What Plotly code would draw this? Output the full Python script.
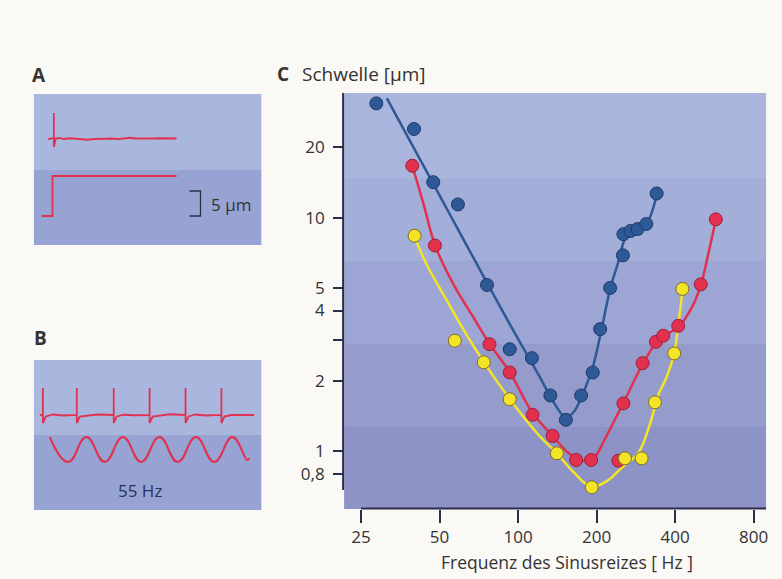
import plotly.graph_objects as go

W, H = 782, 579
def px(x): return x / W
def py(y): return 1 - y / H

# ---------------- Panel C data (frequency [Hz], threshold [µm]) ----------------
blue_f = [28.6, 39.9, 47.3, 58.8, 76.0, 92.9, 113, 133, 152.5, 174.6, 193.5, 206.5, 225.5, 252.5, 253.5, 270, 287.5, 310.5, 340]
blue_v = [30.9, 24.0, 14.2, 11.4, 5.15, 2.73, 2.50, 1.73, 1.36, 1.73, 2.17, 3.33, 5.0, 6.9, 8.5, 8.77, 8.94, 9.40, 12.7]

red_f = [39.3, 48.0, 77.7, 92.9, 113.7, 135.7, 167, 190.7, 242.5, 253.5, 300.5, 338, 360.5, 411.5, 502, 573.5]
red_v = [16.7, 7.6, 2.87, 2.17, 1.43, 1.16, 0.915, 0.915, 0.909, 1.60, 2.38, 2.94, 3.12, 3.44, 5.18, 9.84]

yel_f = [40.1, 57.2, 73.9, 92.9, 140.9, 191.7, 257, 297.8, 335, 397, 427]
yel_v = [8.37, 2.97, 2.40, 1.666, 0.978, 0.699, 0.930, 0.930, 1.617, 2.62, 4.95]

# fitted curves
blue_cf = [31.4, 68.7, 92.9, 119.9, 136.8, 152.1, 164.6, 179.8, 194.6, 208.8, 226, 242.5, 255.8, 272, 310.4, 339]
blue_cv = [32.5, 6.48, 3.50, 2.12, 1.62, 1.385, 1.484, 1.826, 2.337, 3.30, 5.00, 6.46, 8.02, 8.77, 9.40, 12.27]

red_cf = [39.3, 43.5, 48.0, 56.7, 67.6, 77.9, 92.9, 113.7, 135.7, 156.2, 178.2, 196.3, 216.3, 253.5, 299.6, 345, 415, 469.5, 503.8, 540.7, 573.5]
red_cv = [16.66, 11.34, 7.64, 5.15, 3.72, 2.875, 2.18, 1.455, 1.16, 0.980, 0.906, 0.942, 1.137, 1.606, 2.337, 2.99, 3.43, 4.23, 5.20, 7.27, 9.78]

yel_cf = [40.1, 44.7, 51.9, 61.9, 73.9, 92.9, 119.9, 140.5, 163.2, 191.2, 222.1, 249, 289.3, 321.5, 345, 370, 397.2, 411.5, 427.3]
yel_cv = [8.27, 6.27, 4.66, 3.30, 2.41, 1.67, 1.171, 0.980, 0.813, 0.701, 0.751, 0.846, 0.980, 1.318, 1.738, 2.055, 2.63, 3.47, 4.90]

x_ticks = [25, 50, 100, 200, 400, 800]
y_ticks = [0.8, 1, 2, 3, 4, 5, 10, 20]
y_ticktext = ["0,8", "1", "2", "", "4", "5", "10", "20"]

# ---------------- Panel A data (time [ms], displacement [µm]) ----------------
a_resp_t = [7, 8, 9, 10, 10, 10, 11, 13, 15, 18, 21, 24, 27, 30, 33, 36, 39, 42, 45, 48, 51, 54, 57, 60, 63, 66, 69, 71.5]
a_resp_y = [21.3, 21.2, 21.35, 21.3, 26.4, 19.6, 21.3, 21.4, 21.2, 21.35, 21.25, 21.1, 21.05, 21.2, 21.3, 21.25, 21.3, 21.2, 21.3, 21.45, 21.3, 21.35, 21.25, 21.3, 21.35, 21.3, 21.35, 21.3]
a_stim_t = [3.85, 9.3, 9.3, 71.5]
a_stim_y = [5.8, 5.8, 13.8, 13.8]
scale_bar_um = 5

# ---------------- Panel B data ----------------
b_spike_t = [4.5, 21.5, 40, 58, 76, 94]
b_resp_base = 19.0
b_spike_top = 24.4
b_spike_bot = 17.4
b_sine_t = [8, 17.2, 26.3, 35.5, 44.6, 53.8, 62.9, 72.1, 81.2, 90.4, 99.5, 107, 108]
b_sine_y = [14.6, 9.6, 14.6, 9.6, 14.6, 9.6, 14.6, 9.6, 14.6, 9.6, 14.6, 10.0, 10.4]

# build B response trace
b_resp_t = [3]
b_resp_y = [b_resp_base]
wob = [0.1, -0.1, 0.05, -0.15, 0.1, 0.0]
for i, t in enumerate(b_spike_t):
    b_resp_t += [t, t, t, t + 1.5, t + 5, t + 10]
    b_resp_y += [b_resp_base, b_spike_top, b_spike_bot, b_resp_base - 0.3, b_resp_base + wob[i], b_resp_base - wob[i]]
b_resp_t += [110.5]
b_resp_y += [b_resp_base]

RED = "#e2304f"
BLUE = "#2d5a97"
YEL = "#f3e428"
INK = "#2b2d4a"
TXT = "#333333"
FONT = "Open Sans"
PAPER = "#faf9f5"

fig = go.Figure()

# curves
fig.add_trace(go.Scatter(x=yel_cf, y=yel_cv, mode="lines", line=dict(color=YEL, width=2.5, shape="spline", smoothing=1.0), xaxis="x", yaxis="y"))
fig.add_trace(go.Scatter(x=red_cf, y=red_cv, mode="lines", line=dict(color=RED, width=2.5, shape="spline", smoothing=1.0), xaxis="x", yaxis="y"))
fig.add_trace(go.Scatter(x=blue_cf, y=blue_cv, mode="lines", line=dict(color=BLUE, width=2.5, shape="spline", smoothing=0.8), xaxis="x", yaxis="y"))
# markers
fig.add_trace(go.Scatter(x=red_f, y=red_v, mode="markers", marker=dict(size=13, color=RED, line=dict(color="#9c2040", width=1)), xaxis="x", yaxis="y"))
fig.add_trace(go.Scatter(x=yel_f, y=yel_v, mode="markers", marker=dict(size=13, color=YEL, line=dict(color="#7c6c28", width=1)), xaxis="x", yaxis="y"))
fig.add_trace(go.Scatter(x=blue_f, y=blue_v, mode="markers", marker=dict(size=13, color=BLUE, line=dict(color="#1d3a6a", width=1)), xaxis="x", yaxis="y"))

# Panel A
fig.add_trace(go.Scatter(x=a_resp_t, y=a_resp_y, mode="lines", line=dict(color=RED, width=1.8), xaxis="x2", yaxis="y2"))
fig.add_trace(go.Scatter(x=a_stim_t, y=a_stim_y, mode="lines", line=dict(color=RED, width=1.8), xaxis="x2", yaxis="y2"))
y0 = 5.8
fig.add_trace(go.Scatter(x=[78, 83.5, 83.5, 78], y=[y0 + scale_bar_um, y0 + scale_bar_um, y0, y0], mode="lines",
                         line=dict(color=INK, width=1.3), xaxis="x2", yaxis="y2"))

# Panel B
fig.add_trace(go.Scatter(x=b_resp_t, y=b_resp_y, mode="lines", line=dict(color=RED, width=1.8), xaxis="x3", yaxis="y3"))
fig.add_trace(go.Scatter(x=b_sine_t, y=b_sine_y, mode="lines", line=dict(color=RED, width=2, shape="spline", smoothing=1.3), xaxis="x3", yaxis="y3"))

shapes = []
# panel C bands
bands_c = [(93, 178, "#a9b5dd"), (178, 261, "#a3aed9"), (261, 344, "#9ca5d3"), (344, 427, "#959ccc"), (427, 509, "#8d93c6")]
for t, b, c in bands_c:
    shapes.append(dict(type="rect", xref="paper", yref="paper", x0=px(345), x1=px(768), y0=py(b), y1=py(t),
                       fillcolor=c, line=dict(width=0), layer="below"))
# panel A / B bands
for (t, m, b) in [(94, 170, 245), (360, 435, 510)]:
    shapes.append(dict(type="rect", xref="paper", yref="paper", x0=px(34), x1=px(262), y0=py(m), y1=py(t),
                       fillcolor="#a9b7df", line=dict(width=0), layer="below"))
    shapes.append(dict(type="rect", xref="paper", yref="paper", x0=px(34), x1=px(262), y0=py(b), y1=py(m),
                       fillcolor="#97a3d3", line=dict(width=0), layer="below"))
# axis lines
shapes.append(dict(type="line", xref="paper", yref="paper", x0=px(344), x1=px(344), y0=py(490), y1=py(93),
                   line=dict(color=INK, width=2)))
shapes.append(dict(type="line", xref="paper", yref="paper", x0=px(362), x1=px(768), y0=py(508.5), y1=py(508.5),
                   line=dict(color=INK, width=2)))

def pann(text, x, y, size, xa="center", bold=False, color=TXT):
    return dict(text=("<b>%s</b>" % text) if bold else text, x=px(x), y=py(y), xref="paper", yref="paper",
                xanchor=xa, yanchor="middle", showarrow=False, font=dict(size=size, color=color, family=FONT))

ann = [
    pann("A", 39, 75, 19, bold=True),
    pann("B", 41, 338, 19, bold=True),
    pann("C", 284, 74, 19, bold=True),
    pann("Schwelle [µm]", 301, 74, 19, xa="left"),
    pann("Frequenz des Sinusreizes [ Hz ]", 568, 562, 17.5),
    dict(text="5 µm", x=88, y=8.2, xref="x2", yref="y2", xanchor="left", yanchor="middle", showarrow=False,
         font=dict(size=17, color=TXT, family=FONT)),
    dict(text="55 Hz", x=53, y=4, xref="x3", yref="y3", xanchor="center", yanchor="middle", showarrow=False,
         font=dict(size=17, color="#2a3458", family=FONT)),
]

hidden = dict(visible=False, showgrid=False, zeroline=False, fixedrange=True)

fig.update_layout(
    width=W, height=H, margin=dict(l=0, r=0, t=0, b=0),
    paper_bgcolor=PAPER, plot_bgcolor="rgba(0,0,0,0)",
    showlegend=False, shapes=shapes, annotations=ann,
    font=dict(family=FONT, color=TXT),
    xaxis=dict(type="log", domain=[px(345), px(768)], range=[1.3329, 2.9511],
               tickvals=x_ticks, ticktext=[str(v) for v in x_ticks],
               ticks="outside", ticklen=13, tickwidth=1.5, tickcolor=INK,
               showgrid=False, zeroline=False, showline=False,
               tickfont=dict(size=17, color=TXT, family=FONT), anchor="y"),
    yaxis=dict(type="log", domain=[py(509), py(93)], range=[-0.2486, 1.5345],
               tickvals=y_ticks, ticktext=y_ticktext,
               ticks="outside", ticklen=10, tickwidth=1.5, tickcolor=INK,
               ticklabelstandoff=5,
               showgrid=False, zeroline=False, showline=False,
               tickfont=dict(size=17, color=TXT, family=FONT), anchor="x"),
    xaxis2=dict(domain=[px(34), px(262)], range=[0, 114], anchor="y2", **hidden),
    yaxis2=dict(domain=[py(245), py(94)], range=[0, 30.2], anchor="x2", **hidden),
    xaxis3=dict(domain=[px(34), px(262)], range=[0, 114], anchor="y3", **hidden),
    yaxis3=dict(domain=[py(510), py(360)], range=[0, 30], anchor="x3", **hidden),
)

fig.write_html("out.html", config={"displayModeBar": False},
               post_script="document.body.style.margin='0';document.body.style.overflow='hidden';document.body.style.background='%s';" % PAPER)
